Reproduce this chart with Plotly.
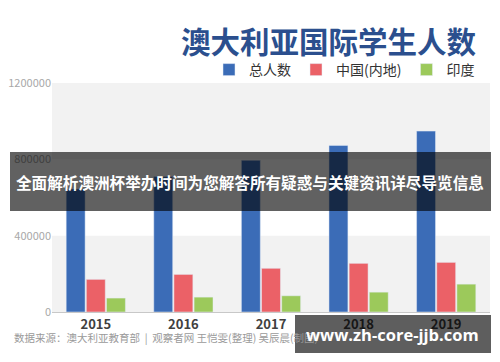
import plotly.graph_objects as go

years = ["2015", "2016", "2017", "2018", "2019"]
total = [645000, 710000, 795000, 873000, 948000]
china = [171000, 197000, 229000, 255000, 260000]
india = [73000, 78000, 85000, 104000, 146000]
series_names = ["总人数", "中国(内地)", "印度"]
y_ticks = [0, 400000, 800000, 1200000]

W, H = 500, 362
L, R, T, B = 52, 10, 83, 50
PW, PH = W - L - R, H - T - B


def px(x):
    return (x - L) / PW


def py(y):
    return (H - B - y) / PH


FONT = "Noto Sans CJK SC"

fig = go.Figure()
fig.add_bar(x=years, y=total, name=series_names[0], marker_color="#3b6cb7")
fig.add_bar(x=years, y=china, name=series_names[1], marker_color="#eb6167")
fig.add_bar(x=years, y=india, name=series_names[2], marker_color="#9cc95b")

# alternating background bands
for y0, y1 in [(0, 400000), (800000, 1200000)]:
    fig.add_shape(type="rect", xref="paper", yref="y", x0=0, x1=1, y0=y0, y1=y1,
                  fillcolor="#f2f2f2", line_width=0, layer="below")

# overlay banner
fig.add_shape(type="rect", xref="paper", yref="paper", x0=px(10), x1=px(491),
              y0=py(211), y1=py(152), fillcolor="rgba(0,0,0,0.62)", line_width=0,
              layer="above")
# watermark box
fig.add_shape(type="rect", xref="paper", yref="paper", x0=px(295), x1=px(491),
              y0=py(353), y1=py(315), fillcolor="rgba(0,0,0,0.63)", line_width=0,
              layer="above")

annotations = [
    dict(text="<b>澳大利亚国际学生人数</b>", x=px(478), y=py(40), xanchor="right",
         yanchor="middle", font=dict(size=29.5, color="#2b4f8e", family=FONT)),
    dict(text="数据来源：澳大利亚教育部  |  观察者网 王恺雯(整理) 吴辰晨(制图)",
         x=px(12), y=py(337), xanchor="left", yanchor="middle",
         font=dict(size=10.5, color="#9a9a9a", family=FONT)),
    dict(text="<b>全面解析澳洲杯举办时间为您解答所有疑惑与关键资讯详尽导览信息</b>",
         x=px(250), y=py(182), xanchor="center", yanchor="middle",
         font=dict(size=15.6, color="white", family=FONT)),
    dict(text="<b>www.zh-core-jjb.com</b>", x=px(392), y=py(334),
         xanchor="center", yanchor="middle",
         font=dict(size=16.5, color="white", family="Open Sans")),
]
for a in annotations:
    a.update(xref="paper", yref="paper", showarrow=False)

fig.update_layout(
    width=W, height=H,
    margin=dict(l=L, r=R, t=T, b=B, autoexpand=False),
    paper_bgcolor="white", plot_bgcolor="white",
    barmode="group", bargap=0.31, bargroupgap=0.06,
    font=dict(family=FONT),
    annotations=annotations,
    legend=dict(orientation="h", x=px(480), xanchor="right", y=py(70),
                yanchor="middle", font=dict(size=14, color="#333333", family=FONT),
                bgcolor="rgba(0,0,0,0)", itemclick=False),
    xaxis=dict(showgrid=False, showline=True, linecolor="#c8c8c8", linewidth=1,
               automargin=False,
               tickfont=dict(size=13, color="#404040", family=FONT),
               tickprefix="<b>", ticksuffix="</b>"),
    yaxis=dict(range=[0, 1200000], tickvals=y_ticks, tickformat="d",
               showgrid=False, zeroline=False, automargin=False,
               tickfont=dict(size=11, color="#a8a8a8", family=FONT)),
)

fig.write_html("out.html", config={"displayModeBar": False},
               post_script="document.body.style.margin='0';")
